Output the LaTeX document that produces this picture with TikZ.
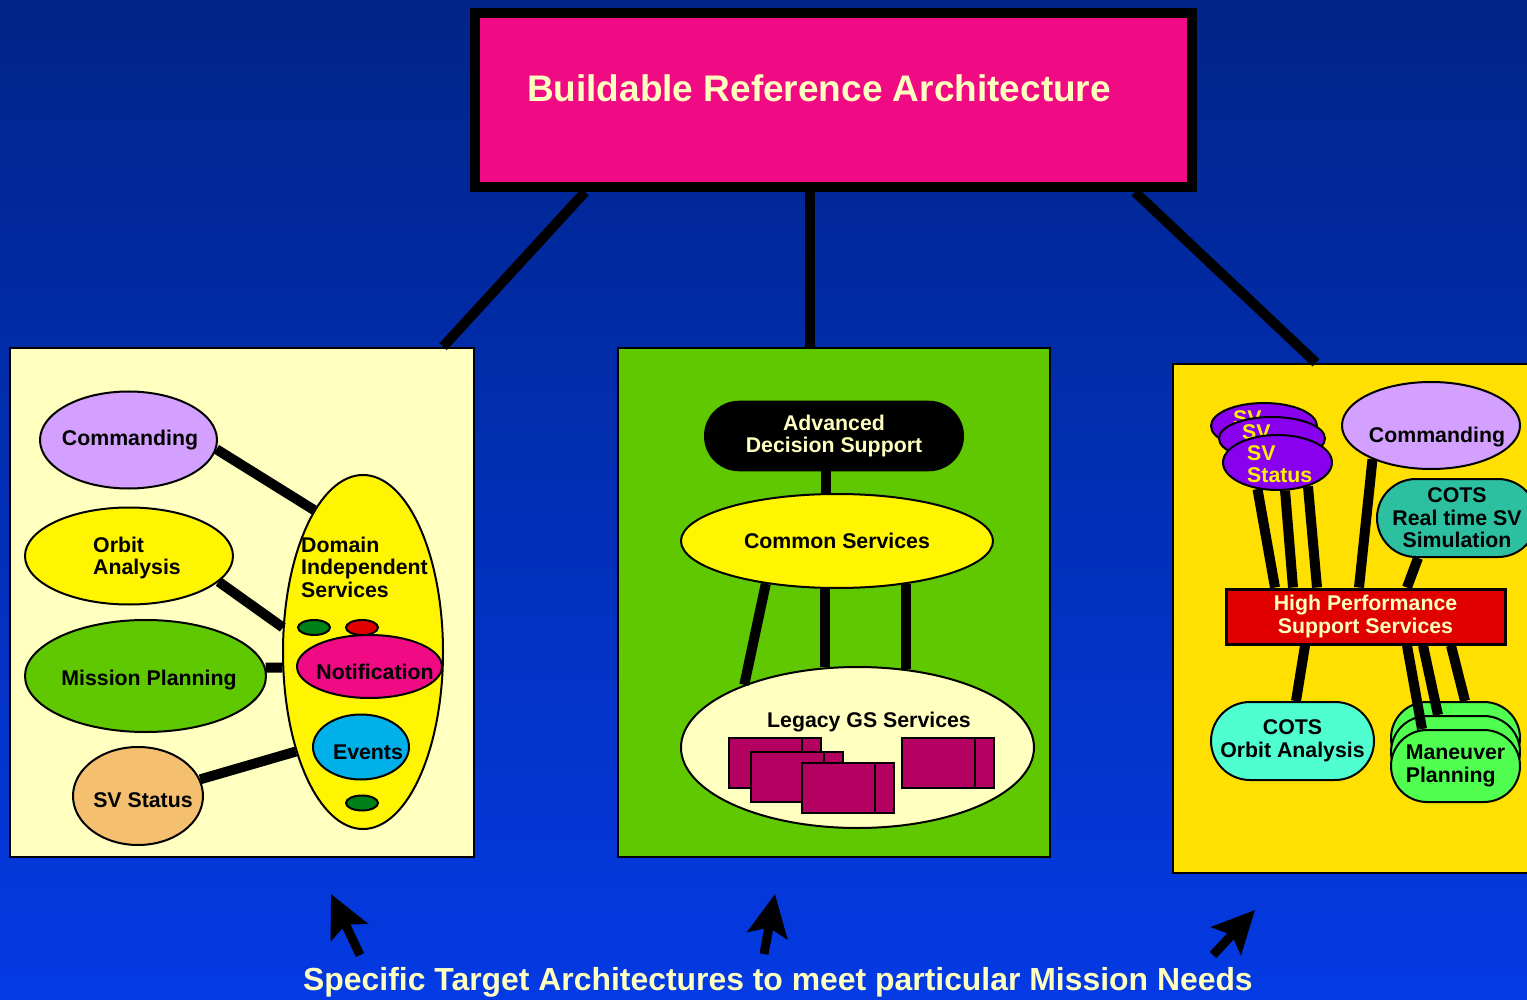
\documentclass[tikz,border=0pt]{standalone}
\usepackage{fontspec}
\setmainfont{Liberation Sans}
\usetikzlibrary{shapes.geometric, arrows.meta}

\definecolor{skytop}{RGB}{0,36,136}
\definecolor{skybot}{RGB}{4,58,228}
\definecolor{hotpink}{RGB}{240,10,132}
\definecolor{cream}{RGB}{255,255,192}
\definecolor{grass}{RGB}{96,200,0}
\definecolor{gold}{RGB}{255,224,0}
\definecolor{lemon}{RGB}{255,245,0}
\definecolor{lilac}{RGB}{212,160,255}
\definecolor{tan}{RGB}{244,192,112}
\definecolor{sky}{RGB}{0,176,232}
\definecolor{leaf}{RGB}{0,128,24}
\definecolor{signal}{RGB}{224,0,0}
\definecolor{plum}{RGB}{180,0,96}
\definecolor{teal}{RGB}{44,192,160}
\definecolor{aqua}{RGB}{80,255,208}
\definecolor{lime}{RGB}{80,255,80}
\definecolor{violet}{RGB}{136,0,238}

\tikzset{server/.pic={
  \draw[fill=plum, line width=2pt] (-46,-25) rectangle (46,25);
  \draw[line width=2pt] (27,-25) -- (27,25);
}}

\begin{document}
\begin{tikzpicture}[
    x=1pt, y=-1pt,
    wire/.style={line width=10pt},
    panel/.style={draw, line width=2.5pt, inner sep=0pt},
    blob/.style={ellipse, draw, line width=2pt, inner sep=0pt},
    pill/.style={draw, line width=2pt, inner sep=0pt, align=center},
    lbl/.style={font=\fontsize{21.3}{22.5}\selectfont\bfseries, inner sep=0pt, align=left},
    bigarrow/.style={line width=9pt, -{Stealth[length=42pt,width=40pt,inset=8pt]}}
]
\useasboundingbox (0,0) rectangle (1527,1000);
\shade[top color=skytop, bottom color=skybot] (0,0) rectangle (1527,1000);

% reference architecture
\node[draw, line width=10pt, fill=hotpink, minimum width=717pt, minimum height=174pt] (bra) at (833.5,100) {};
\node[font=\fontsize{37}{40}\selectfont\bfseries, text=cream, inner sep=0pt] (braT) at (819,88.5) {Buildable Reference Architecture};

% target architectures
\node[panel, fill=cream, minimum width=464pt, minimum height=509pt] (lp) at (242,602.5) {};
\node[panel, fill=grass, minimum width=432pt, minimum height=509pt] (mp) at (834,602.5) {};
\node[panel, fill=gold, minimum width=362pt, minimum height=509pt] (rp) at (1354,618.5) {};
\draw[wire] ([xshift=-248.5pt]bra.south) -- ([xshift=201pt]lp.north);
\draw[wire] ([xshift=-23.5pt]bra.south) -- ([xshift=-24pt]mp.north);
\draw[wire] ([xshift=301.5pt]bra.south) -- ([xshift=-38pt]rp.north);

% left
\node[blob, fill=lilac, minimum width=177pt, minimum height=97pt] (cmdL) at (128.5,440) {};
\node[blob, fill=lemon, minimum width=208pt, minimum height=97pt] (orb) at (129,556) {};
\node[blob, fill=grass, minimum width=241pt, minimum height=112pt] (mpl) at (145.5,676) {};
\node[blob, fill=tan, minimum width=130pt, minimum height=98pt] (svs) at (138,796) {};
\node[blob, fill=lemon, minimum width=160pt, minimum height=354pt] (dis) at (363,652) {};
\node[blob, fill=leaf, minimum width=32pt, minimum height=15pt] (dot1) at (314,627.5) {};
\node[blob, fill=signal, minimum width=32pt, minimum height=15pt] (dot2) at (362,627.5) {};
\node[blob, fill=hotpink, minimum width=145pt, minimum height=63pt] (ntf) at (369.5,666.5) {};
\node[blob, fill=sky, minimum width=96pt, minimum height=65pt] (evt) at (361,747) {};
\node[blob, fill=leaf, minimum width=32pt, minimum height=15pt] (dot3) at (362,803) {};
\node[lbl] (cmdLT) at (130,440) {Commanding};
\node[lbl, anchor=west] (orbT) at (93,558) {Orbit\\Analysis};
\node[lbl] (mplT) at (149,680) {Mission Planning};
\node[lbl] (svsT) at (143,800) {SV Status};
\node[lbl, anchor=west] (disT) at (301,567) {Domain\\Independent\\Services};
\node[lbl] (ntfT) at (375,672) {Notification};
\node[lbl] (evtT) at (368,752) {Events};
\draw[wire] (cmdL.-6) -- (dis.109);
\draw[wire] (orb.-16) -- (dis.163);
\draw[wire] (mpl.4) -- (dis.191);
\draw[wire] (svs.15) -- (dis.236);

% middle
\node[pill, fill=black, text=cream, rounded corners=34pt, minimum width=258pt, minimum height=68.5pt, lbl, align=center] (ads) at (834,436) {Advanced\\Decision Support};
\node[blob, fill=lemon, minimum width=312pt, minimum height=94pt, lbl] (cs) at (837,541) {Common Services};
\node[blob, fill=cream, minimum width=353pt, minimum height=161pt] (leg) at (857.5,747.5) {};
\node[lbl] (legT) at (869,722) {Legacy GS Services};
\pic at (775,763) {server};
\pic at (797,777) {server};
\pic at (847.5,787.5) {server};
\pic at (947.5,763) {server};
\draw[wire] ([xshift=-8pt]ads.south) -- ([xshift=-11pt]cs.north);
\draw[wire] (cs.211) -- (leg.151);
\draw[wire] (cs.256.8) -- (cs.256.8 |- leg.111.7);
\draw[wire] (cs.328.6) -- (cs.328.6 |- leg.57.9);

% right
\node[blob, fill=violet, minimum width=106pt, minimum height=46pt] (sv1) at (1264,426) {};
\node[lbl, text=yellow, anchor=west] (sv1T) at (1233,418) {SV};
\node[blob, fill=violet, minimum width=106pt, minimum height=43pt] (sv2) at (1272,438.5) {};
\node[lbl, text=yellow, anchor=west] (sv2T) at (1242,432) {SV};
\node[blob, fill=violet, minimum width=109pt, minimum height=55pt] (sv3) at (1277.5,462.5) {};
\node[lbl, text=yellow, anchor=west] (sv3T) at (1247,464) {SV\\Status};
\node[blob, fill=lilac, minimum width=178pt, minimum height=87pt] (cmdR) at (1431,425.5) {};
\node[lbl] (cmdRT) at (1437,437) {Commanding};
\node[pill, fill=teal, rounded corners=39pt, minimum width=160pt, minimum height=78pt, lbl, align=center] (crt) at (1457,518) {COTS\\Real time SV\\Simulation};
\node[draw, line width=3pt, fill=signal, text=cream, minimum width=279pt, minimum height=55pt, inner sep=0pt, lbl, align=center] (hpss) at (1365.5,616.5) {High Performance\\Support Services};
\node[pill, fill=aqua, rounded corners=39pt, minimum width=163pt, minimum height=78pt, lbl, align=center] (coa) at (1292.5,741) {COTS\\Orbit Analysis};
\node[pill, fill=lime, rounded corners=36pt, minimum width=129pt, minimum height=72pt] (mnv1) at (1455.5,738) {};
\node[pill, fill=lime, rounded corners=36pt, minimum width=129pt, minimum height=72pt] (mnv2) at (1455.5,752) {};
\node[pill, fill=lime, rounded corners=36pt, minimum width=129pt, minimum height=72pt, lbl, align=left] (mnv3) at (1455.5,766) {Maneuver\\Planning};
\draw[wire] (sv3.233) -- ([xshift=-90.5pt]hpss.north);
\draw[wire] (sv3.285) -- ([xshift=-72.5pt]hpss.north);
\draw[wire] (sv3.322) -- ([xshift=-48.5pt]hpss.north);
\draw[wire] (cmdR.210) -- ([xshift=-6.5pt]hpss.north);
\draw[wire] ([xshift=-39pt]crt.south) -- ([xshift=41.5pt]hpss.north);
\draw[wire] ([xshift=-60.5pt]hpss.south) -- ([xshift=3.5pt]coa.north);
\draw[wire] ([xshift=41.5pt]hpss.south) -- ([xshift=-33.5pt]mnv3.north);
\draw[wire] ([xshift=57.5pt]hpss.south) -- ([xshift=-17.5pt]mnv2.north);
\draw[wire] ([xshift=85.5pt]hpss.south) -- ([xshift=9.5pt]mnv1.north);

% mission needs
\coordinate (a1s) at (360,955);
\coordinate (a1e) at (331,894);
\coordinate (a2s) at (764,954);
\coordinate (a2e) at (775,894);
\coordinate (a3s) at (1213,955);
\coordinate (a3e) at (1255,910);
\draw[bigarrow] (a1s) -- (a1e);
\draw[bigarrow] (a2s) -- (a2e);
\draw[bigarrow] (a3s) -- (a3e);
\node[font=\fontsize{31.9}{34}\selectfont\bfseries, text=cream, inner sep=0pt] (needs) at (778,982) {Specific Target Architectures to meet particular Mission Needs};
\end{tikzpicture}
\end{document}
